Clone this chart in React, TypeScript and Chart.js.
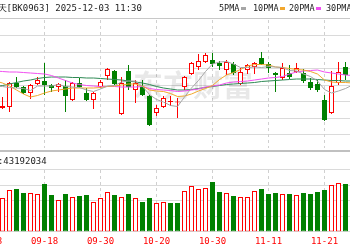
import React, { useEffect, useRef } from "react";
import { Chart, registerables } from "chart.js";

Chart.register(...registerables);

// ---- data ----
const dates = [
  "09-08","09-09","09-10","09-11","09-12","09-15","09-16","09-17","09-18","09-19",
  "09-22","09-23","09-24","09-25","09-26","09-29","09-30","10-09","10-10","10-13",
  "10-14","10-15","10-16","10-17","10-20","10-21","10-22","10-23","10-24","10-27",
  "10-28","10-29","10-30","10-31","11-03","11-04","11-05","11-06","11-07","11-10",
  "11-11","11-12","11-13","11-14","11-17","11-18","11-19","11-20","11-21","11-24",
  "11-25","11-26","11-27",
];

const opens = [
  1393, 1397, 1405, 1407, 1455, 1447, 1435, 1453, 1459, 1451,
  1447, 1449, 1421, 1455, 1435, 1421, 1447, 1469, 1479, 1393,
  1479, 1441, 1447, 1429, 1395, 1407, 1417, 1416, 1447, 1473,
  1487, 1497, 1501, 1495, 1481, 1493, 1453, 1481, 1487, 1505,
  1493, 1475, 1465, 1475, 1477, 1475, 1457, 1453, 1421, 1395,
  1455, 1487, 1455,
];
const highs = [
  1403, 1407, 1427, 1457, 1467, 1449, 1453, 1467, 1495, 1453,
  1455, 1461, 1457, 1465, 1445, 1437, 1461, 1485, 1481, 1467,
  1491, 1461, 1461, 1431, 1411, 1429, 1429, 1425, 1469, 1497,
  1513, 1515, 1515, 1499, 1501, 1497, 1485, 1493, 1497, 1517,
  1497, 1477, 1495, 1491, 1495, 1483, 1465, 1461, 1431, 1479,
  1497, 1497, 1481,
];
const lows = [
  1389, 1395, 1403, 1397, 1445, 1433, 1423, 1451, 1431, 1437,
  1437, 1397, 1419, 1445, 1419, 1403, 1445, 1461, 1451, 1391,
  1441, 1415, 1429, 1369, 1389, 1405, 1409, 1385, 1441, 1471,
  1481, 1495, 1487, 1481, 1471, 1471, 1451, 1473, 1473, 1491,
  1475, 1437, 1461, 1463, 1475, 1455, 1441, 1437, 1379, 1393,
  1451, 1461, 1451,
];
const closes = [
  1397, 1401, 1409, 1455, 1447, 1435, 1451, 1461, 1451, 1445,
  1453, 1429, 1455, 1447, 1421, 1435, 1457, 1483, 1453, 1455,
  1447, 1455, 1431, 1371, 1405, 1425, 1419, 1418, 1467, 1495,
  1499, 1511, 1493, 1489, 1497, 1475, 1477, 1491, 1495, 1493,
  1485, 1471, 1485, 1467, 1485, 1459, 1445, 1441, 1381, 1449,
  1477, 1471, 1477,
];

const ma5 = [
  1450, 1449, 1448, 1446, 1445, 1444, 1440, 1449, 1449, 1449,
  1452, 1448, 1447, 1446, 1441, 1438, 1443, 1449, 1450, 1457,
  1459, 1459, 1448, 1432, 1422, 1417, 1410, 1408, 1427, 1445,
  1460, 1478, 1493, 1497, 1498, 1493, 1486, 1486, 1487, 1486,
  1488, 1487, 1486, 1480, 1479, 1473, 1468, 1459, 1442, 1435,
  1439, 1444, 1451,
];
const ma10 = [
  1462, 1459, 1455, 1449, 1441, 1433, 1427, 1430, 1435, 1439,
  1441, 1443, 1445, 1445, 1445, 1445, 1446, 1448, 1449, 1451,
  1453, 1453, 1449, 1441, 1439, 1438, 1434, 1428, 1429, 1433,
  1439, 1444, 1450, 1462, 1471, 1476, 1482, 1489, 1492, 1492,
  1491, 1487, 1486, 1484, 1482, 1481, 1478, 1473, 1461, 1457,
  1456, 1456, 1455,
];
const ma20 = [
  1480, 1479, 1478, 1477, 1477, 1476, 1475, 1474, 1473, 1470,
  1465, 1460, 1455, 1452, 1450, 1449, 1448, 1448, 1448, 1447,
  1447, 1447, 1448, 1444, 1442, 1441, 1440, 1438, 1439, 1441,
  1443, 1447, 1449, 1451, 1455, 1457, 1458, 1459, 1461, 1463,
  1465, 1466, 1468, 1473, 1477, 1479, 1480, 1481, 1477, 1475,
  1473, 1471, 1470,
];
const ma30 = [
  1446, 1448, 1450, 1453, 1456, 1459, 1461, 1464, 1466, 1467,
  1467, 1467, 1466, 1466, 1465, 1465, 1464, 1463, 1462, 1461,
  1459, 1457, 1455, 1452, 1448, 1445, 1443, 1441, 1441, 1442,
  1444, 1446, 1448, 1450, 1452, 1453, 1454, 1455, 1456, 1458,
  1459, 1460, 1461, 1462, 1463, 1463, 1463, 1462, 1461, 1460,
  1460, 1459, 1459,
];

// volume, millions of shares
const volumes = [
  80, 83, 67, 83, 85, 77, 77, 75, 95, 73,
  63, 75, 69, 71, 73, 59, 67, 79, 73, 69,
  75, 67, 59, 67, 57, 59, 57, 57, 81, 91,
  85, 87, 99, 79, 77, 71, 69, 69, 81, 85,
  75, 77, 75, 75, 73, 77, 75, 79, 83, 93,
  97, 95, 91,
];

const tickIndexes = [0, 8, 16, 24, 32, 40, 48];
const headerName = "商业航天[BK0963]";
const headerTime = "2025-12-03 11:30";
const volumeLabel = "成交量:43192034";
const legendNames = ["5PMA", "10PMA", "20PMA", "30PMA"];
const watermark = "东方财富";

const RED = "#ff0000";
const GREEN = "#008000";
const MA_COLORS = ["#a6a6a6", "#f2a72e", "#f050f0", "#2f8a55"];
const FONT = '9px "DejaVu Sans Mono", monospace';
const LEGEND_FONT = '8.5px "DejaVu Sans Mono", monospace';

// grid drawn with fills, positions taken from the chart's scales
function drawGrid(chart: any, strongEdges: boolean) {
  const ctx = chart.ctx;
  const a = chart.chartArea;
  const ys = chart.scales.y;
  const xs = chart.scales.x;
  const left = 0;
  const width = chart.width;
  const step = ys.options.ticks.stepSize;
  const values: number[] = [];
  for (let v = ys.min; v <= ys.max + 1e-6; v += step) values.push(v);
  const n = values.length;
  values.forEach((v, i) => {
    const py = ys.getPixelForValue(v);
    const isBottom = i === 0;
    const isTop = i === n - 1;
    if (strongEdges && isBottom) {
      ctx.fillStyle = "#c0c0c0";
      ctx.fillRect(left, Math.round(py) - 1, width, 2);
    } else if (strongEdges && isTop) {
      ctx.fillStyle = "#c8c8c8";
      ctx.fillRect(left, Math.floor(py), width, 1);
    } else {
      ctx.fillStyle = "#dadada";
      ctx.fillRect(left, isBottom ? Math.floor(py) : Math.round(py), width, 1);
    }
  });
  ctx.fillStyle = "#d0d0d0";
  tickIndexes.forEach((k) => {
    const px = xs.getPixelForValue(k);
    if (px < 0 || px > width) return;
    const col = Math.floor(px);
    const y0 = Math.ceil(a.top) + 1;
    const y1 = Math.floor(a.bottom) - (strongEdges ? 2 : 0);
    for (let y = y0; y < y1; y += 6) {
      ctx.fillRect(col, y, 1, Math.min(3, y1 - y));
    }
  });
}

export default function App() {
  const mainRef = useRef<HTMLCanvasElement>(null);
  const volRef = useRef<HTMLCanvasElement>(null);

  useEffect(() => {
    const idx = dates.map((_, k) => k);
    const up = idx.map((k) => closes[k] >= opens[k]);
    const volUp = idx.map((k) => (k === 0 ? up[0] : closes[k] >= closes[k - 1]));
    const X_MIN = 11.5 / 7;
    const X_MAX = 361.5 / 7;

    const xScale = () => ({
      type: "linear" as const,
      min: X_MIN,
      max: X_MAX,
      bounds: "data" as const,
      offset: false,
      afterFit: (s: any) => {
        s.height = 0;
      },
      ticks: { display: false },
      grid: { display: false },
      border: { display: false },
    });

    const headerPlugin = {
      id: "header",
      beforeDatasetsDraw(chart: any) {
        const ctx = chart.ctx;
        ctx.save();
        drawGrid(chart, true);
        ctx.font = 'bold 30px "Noto Sans CJK SC"';
        ctx.fillStyle = "rgba(0,0,0,0.09)";
        ctx.textBaseline = "alphabetic";
        ctx.fillText(watermark, 133, 96);
        ctx.restore();
      },
      afterDraw(chart: any) {
        const ctx = chart.ctx;
        ctx.save();
        ctx.font = FONT;
        ctx.fillStyle = "#222";
        ctx.textBaseline = "alphabetic";
        const name = headerName.slice(0, headerName.indexOf("["));
        const x0 = 6.5 - ctx.measureText(name).width;
        ctx.fillText(headerName + " " + headerTime, x0, 11);
        ctx.font = LEGEND_FONT;
        const starts = [219, 253, 289, 326];
        legendNames.forEach((n, i) => {
          ctx.fillStyle = "#222";
          ctx.fillText(n, starts[i], 11);
          const dx = Math.round(starts[i] + ctx.measureText(n).width + 1.5);
          ctx.fillStyle = MA_COLORS[i];
          ctx.fillRect(dx, 7, 5, 3);
        });
        ctx.restore();
      },
    };

    const maDs = [ma5, ma10, ma20, ma30].map((arr, i) => ({
      type: "line" as const,
      label: legendNames[i],
      data: arr.map((v, k) => ({ x: k, y: v })),
      borderColor: MA_COLORS[i],
      borderWidth: 1,
      pointRadius: 0,
      tension: 0,
      fill: false,
      order: 0,
    }));

    const main = new Chart(mainRef.current!, {
      type: "bar",
      data: {
        datasets: [
          ...maDs,
          {
            type: "bar" as const,
            label: "body",
            data: idx.map((k) => ({ x: k, y: [opens[k], closes[k]] })) as any,
            backgroundColor: idx.map((k) => (up[k] ? "#ffffff" : GREEN)),
            borderColor: idx.map((k) => (up[k] ? RED : GREEN)),
            borderWidth: 1,
            borderSkipped: false,
            barThickness: 5,
            inflateAmount: 0,
            grouped: false,
            order: 1,
          } as any,
          {
            type: "bar" as const,
            label: "wick",
            data: idx.map((k) => ({ x: k, y: [lows[k], highs[k]] })) as any,
            backgroundColor: idx.map((k) => (up[k] ? RED : GREEN)),
            borderWidth: 0,
            barThickness: 1,
            inflateAmount: 0,
            grouped: false,
            order: 2,
          } as any,
        ],
      },
      options: {
        responsive: false,
        animation: false,
        devicePixelRatio: 1,
        layout: { padding: { top: 18.5, bottom: 1.5, left: 0, right: 0 }, autoPadding: false } as any,
        plugins: { legend: { display: false }, tooltip: { enabled: false } },
        scales: {
          x: xScale() as any,
          y: {
            min: 1320,
            max: 1584,
            ticks: { display: false, stepSize: 33 },
            afterFit: (s: any) => {
              s.width = 0;
            },
            grid: { display: false },
            border: { display: false },
          },
        },
      },
      plugins: [headerPlugin],
    });

    const volPlugin = {
      id: "volText",
      beforeDatasetsDraw(chart: any) {
        const ctx = chart.ctx;
        ctx.save();
        drawGrid(chart, false);
        ctx.restore();
      },
      afterDraw(chart: any) {
        const ctx = chart.ctx;
        ctx.save();
        ctx.font = FONT;
        ctx.fillStyle = "#222";
        ctx.textBaseline = "alphabetic";
        const pre = volumeLabel.slice(0, volumeLabel.indexOf(":") + 1);
        ctx.fillText(volumeLabel, 3.3 - ctx.measureText(pre).width, 11.5);
        ctx.fillStyle = RED;
        ctx.textAlign = "center";
        const xs = chart.scales.x;
        tickIndexes.forEach((k) => {
          ctx.fillText(dates[k], xs.getPixelForValue(k), 91.5);
        });
        ctx.restore();
      },
    };

    const vol = new Chart(volRef.current!, {
      type: "bar",
      data: {
        datasets: [
          {
            label: "volume",
            data: idx.map((k) => ({ x: k, y: volumes[k] })) as any,
            backgroundColor: idx.map((k) => (volUp[k] ? "#ffffff" : GREEN)),
            borderColor: idx.map((k) => (volUp[k] ? RED : GREEN)),
            borderWidth: 1,
            borderSkipped: false,
            barThickness: 5,
            inflateAmount: 0,
            grouped: false,
          } as any,
        ],
      },
      options: {
        responsive: false,
        animation: false,
        devicePixelRatio: 1,
        layout: { padding: { top: 17, bottom: 18.5, left: 0, right: 0 }, autoPadding: false } as any,
        plugins: { legend: { display: false }, tooltip: { enabled: false } },
        scales: {
          x: xScale() as any,
          y: {
            min: 0,
            max: 125,
            ticks: { display: false, stepSize: 31.25 },
            afterFit: (s: any) => {
              s.width = 0;
            },
            grid: { display: false },
            border: { display: false },
          },
        },
      },
      plugins: [volPlugin],
    });

    return () => {
      main.destroy();
      vol.destroy();
    };
  }, []);

  return (
    <div style={{ position: "fixed", left: 0, top: 0, width: 350, height: 250, background: "#fff" }}>
      <canvas ref={mainRef} width={350} height={152} style={{ position: "absolute", left: 0, top: 0 }} />
      <canvas ref={volRef} width={350} height={98} style={{ position: "absolute", left: 0, top: 152 }} />
    </div>
  );
}
